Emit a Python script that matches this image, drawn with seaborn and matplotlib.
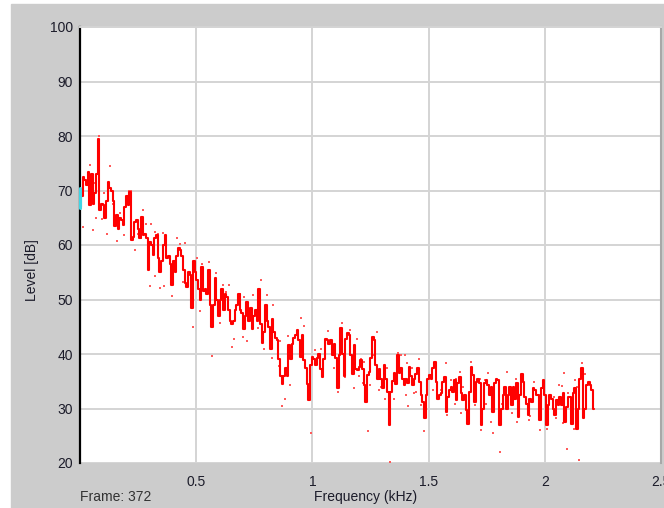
import numpy as np
import pandas as pd
import seaborn as sns
import matplotlib.pyplot as plt
from matplotlib.patches import Rectangle

# espectro do frame 372 (nivel em dB por bin de frequencia)
bin_khz = 0.0072
level_db = [
    67, 69, 72.5, 72, 71, 73.4, 67.3, 73, 67.5, 69.5,
    73, 79.5, 66.5, 67.5, 67.3, 65, 68, 71.5, 70.5, 70,
    68, 63.5, 65.5, 63, 65, 64.5, 63.6, 67, 69, 67.3,
    69.8, 61, 61.5, 64.3, 64.5, 63, 61.2, 65.2, 61.8, 62,
    61.2, 55.5, 60.6, 60, 58.2, 61.2, 61.8, 57.6, 55.1, 57,
    60, 61.8, 57.6, 58, 56.6, 52.7, 57, 55, 58, 59.4, 59,
    58, 55.5, 53, 52.3, 55, 54.5, 48.5, 57, 55, 53.5,
    52, 50, 56, 51.5, 52, 51, 55.5, 49, 45, 49,
    54, 50, 47, 50, 52, 48, 51, 50.5, 48, 46,
    45.5, 46, 48, 49, 51, 48, 47.5, 44.5, 47, 49.5,
    46, 48.5, 44.5, 47, 48, 46, 52, 45.5, 42, 44,
    49, 46, 45, 41, 46.5, 44, 43, 42.5, 39, 36, 34.5,
    36, 37.5, 36, 41.6, 39, 41.9, 43, 43.5, 44.4, 42.5,
    39.5, 43.5, 38.9, 37.5, 34.5, 31.5, 38, 39.5, 39, 38,
    39.2, 40, 37.3, 35.8, 39, 42.8, 42.5, 41.9, 42.5, 39.8,
    41.9, 39.2, 33.7, 39.8, 44.7, 40, 36, 42.8, 43.8, 43.5,
    39.8, 36.4, 41.6, 37.3, 37, 37.6, 38.9, 37.3, 34.3, 31.2,
    36.1, 36.7, 39.2, 43.2, 42.5, 38, 35.5, 37.3, 35.5, 33.7, 38,
    35.5, 33, 27, 33, 35, 36.5, 34.5, 39.8, 36.5, 37.4,
    35.5, 34.3, 35.5, 34.6, 37.7, 36, 34.3, 35.5, 36.4, 37.4,
    34.9, 32.5, 31.2, 28.2, 32.5, 35.5, 36.1, 35.5, 37.4, 38.6,
    34.9, 31.8, 32.5, 32.8, 34.9, 35.8, 29.4, 32.1, 33.4, 34,
    33.1, 35.2, 31.5, 34.6, 35.8, 32.8, 31.5, 32.5, 29.7, 27.2,
    33.1, 37.7, 36.1, 31.2, 34.9, 35.5, 34.6, 26.9, 30, 34.6, 35.2,
    34.3, 32.5, 34, 29.4, 34.6, 35.5, 35.2, 26.9, 30, 32.5,
    34, 30, 32.5, 34, 30.6, 34, 31.8, 34.6, 28.5, 32.5,
    36.4, 34.9, 32.1, 30.9, 28.8, 31.8, 31.2, 33.7, 33.4, 32.5,
    32.5, 27.9, 33.7, 35.2, 32.5, 26.9, 30.6, 32.5, 31.8, 30,
    28.8, 31.5, 30.6, 32.1, 30.6, 32.8, 27.5, 30.3, 32.1, 32.1,
    27.2, 32.8, 33.7, 26.3, 30, 35.5, 37.4, 28.2, 30, 34.3,
    34.9, 34.3, 33.4, 30,
]

# pontos soltos (picos / amostras)
dot_khz = [
    0.08, 0.045, 0.128, 0.06, 0.102, 0.039, 0.014, 0.055, 0.07, 0.095,
    0.142, 0.21, 0.22, 0.116, 0.16, 0.171, 0.188, 0.221, 0.236, 0.251,
    0.273, 0.286, 0.307, 0.264, 0.322, 0.336, 0.358, 0.322, 0.3, 0.362,
    0.346, 0.398, 0.43, 0.418,
    0.451, 0.503, 0.445, 0.527, 0.556, 0.586, 0.639, 0.615, 0.629, 0.517,
    0.488, 0.57, 0.603, 0.664, 0.654, 0.701, 0.718, 0.69, 0.744, 0.78,
    0.805, 0.831, 0.764, 0.79, 0.826, 0.858, 0.859, 0.704,
    0.95, 0.963, 0.895, 0.882, 0.871, 0.902, 0.993, 1.01, 1.036, 1.014,
    1.068, 1.093, 1.112, 1.129, 1.139, 1.163, 1.18, 1.19, 1.208, 1.201,
    1.223, 1.216, 1.241, 1.247, 1.276, 1.262, 1.288, 1.297, 1.313, 1.309,
    1.368, 1.382, 1.397, 1.408, 1.458, 1.322, 1.353, 1.401, 1.411, 1.437,
    1.447, 1.468, 1.48, 1.43, 1.519, 1.573, 1.552, 1.598, 1.612, 1.619,
    1.579, 1.634, 1.648, 1.641, 1.684, 1.698, 1.72, 1.727, 1.741, 1.749,
    1.757, 1.767, 1.776, 1.807, 1.815, 1.836, 1.858, 1.879, 1.876, 1.908,
    1.93, 1.937, 1.955, 1.973, 1.98, 2.009, 2.026, 2.038, 2.047, 2.059,
    2.073, 2.083, 2.095, 2.099, 2.127, 2.138, 2.131, 2.147, 2.159, 2.174,
    2.078, 1.332,
]
dot_db = [
    80, 74.6, 74.5, 71.4, 69.5, 68.8, 63.3, 62.7, 64.9, 64.8,
    67.6, 70, 70, 62, 60.7, 65.9, 61.8, 63.5, 59, 62.1,
    66.5, 63.8, 63.8, 61.2, 62.4, 62.1, 62.2, 54.3, 52.5, 52.5,
    52.1, 50.7, 60.2, 61.2,
    60.3, 57.7, 53.3, 56.5, 56.8, 54.9, 52.7, 52.7, 51.3, 47.8,
    45, 39.7, 45.7, 42.7, 41.2, 43.2, 42.3, 51.1, 50.9, 53.6,
    50.9, 48.9, 44.7, 40.9, 39.3, 37.8, 42.4, 50.4,
    46.6, 45.1, 43.3, 31.8, 30.4, 34.3, 25.5, 40.8, 41, 38,
    44.2, 37.5, 33.1, 45.6, 35.7, 44.4, 33.8, 42.7, 39.1, 35.9,
    38.6, 34.7, 25.8, 34.3, 44.1, 39.8, 33.4, 34, 31.8, 37.3,
    40.2, 39.9, 39.8, 38.3, 39.1, 37.4, 31.8, 32.5, 30.4, 32.8,
    33.1, 30.7, 25.8, 37.4, 33.4, 38.3, 33.4, 35.2, 30.9, 35.5,
    28.8, 36.7, 34, 29.1, 38.6, 30.7, 35.5, 26, 35.2, 30.9,
    36.6, 27.5, 25.5, 22, 30.9, 36.7, 29.2, 27.5, 35.4, 36.1,
    27.9, 28.6, 34.9, 31.3, 26, 26.3, 32.1, 32.1, 28.2, 34.4,
    34.2, 36.6, 22.5, 32.8, 26.3, 34, 35.2, 20.6, 38.3, 36.4,
    27.4, 20.2,
]

# cursor ciano no inicio do espectro
cursor_khz = [0, 0]
cursor_db = [66.7, 70.4]

x_ticks = [0.5, 1, 1.5, 2, 2.5]
x_labels = ["0.5", "1", "1.5", "2", "2.5"]
y_ticks = [20, 30, 40, 50, 60, 70, 80, 90, 100]

espectro = pd.DataFrame({"freq": np.arange(len(level_db)) * bin_khz, "nivel": level_db})
pontos = pd.DataFrame({"freq": dot_khz, "nivel": dot_db})

sns.set_style("white")
plt.rcParams["font.family"] = ["Liberation Sans", "DejaVu Sans"]

fig = plt.figure(figsize=(6.64, 5.08), dpi=100)
fig.patch.set_facecolor("white")
# fundo cinza da janela (atras dos eixos)
fig.patches.append(Rectangle((11 / 664, 0), 1, 1 - 4 / 508, transform=fig.transFigure,
                             color="#cccccc", zorder=-10))

ax = fig.add_axes([80 / 664, 1 - 463 / 508, 581 / 664, 436 / 508])
ax.set_zorder(1)
ax.set_facecolor("white")

sns.scatterplot(data=pontos, x="freq", y="nivel", color="#ff5a5a", s=4, marker="s",
                linewidth=0, ax=ax, zorder=3)
sns.lineplot(data=espectro, x="freq", y="nivel", color="#ff0000", lw=1.5,
             drawstyle="steps-mid", estimator=None, sort=False, ax=ax, zorder=4)
ax.plot(cursor_khz, cursor_db, color="#3fd6e6", lw=2.2, clip_on=False, zorder=5)

ax.set_xlim(0, 2.5)
ax.set_ylim(20, 100)
ax.set_xticks(x_ticks)
ax.set_xticklabels(x_labels)
ax.set_yticks(y_ticks)
ax.grid(True, color="#d4d4d4", lw=1.4)
ax.set_axisbelow(True)

ax.spines["left"].set_color("black")
ax.spines["left"].set_linewidth(1.6)
ax.spines["top"].set_color("#d4d4d4")
ax.spines["top"].set_linewidth(1.4)
ax.spines["right"].set_color("#a8a8a8")
ax.spines["right"].set_linewidth(1.5)
ax.spines["bottom"].set_visible(False)

ax.tick_params(axis="y", direction="out", length=3, width=1, color="black",
               labelsize=10, labelcolor="#1c1c2a", pad=2)
ax.tick_params(axis="x", length=0, labelsize=10, labelcolor="#1c1c2a", pad=9)
ax.set_xlabel("")
ax.set_ylabel("")

fig.text(32 / 664, 1 - 270 / 508, "Level [dB]", rotation=90, ha="center", va="center",
         fontsize=10, color="#1c1c2a")
fig.text(366 / 664, 1 - 497 / 508, "Frequency (kHz)", ha="center", va="center",
         fontsize=10, color="#1c1c2a")
fig.text(80 / 664, 1 - 497 / 508, "Frame: 372", ha="left", va="center",
         fontsize=10, color="#333333")

fig.savefig("out.png", dpi=100)
